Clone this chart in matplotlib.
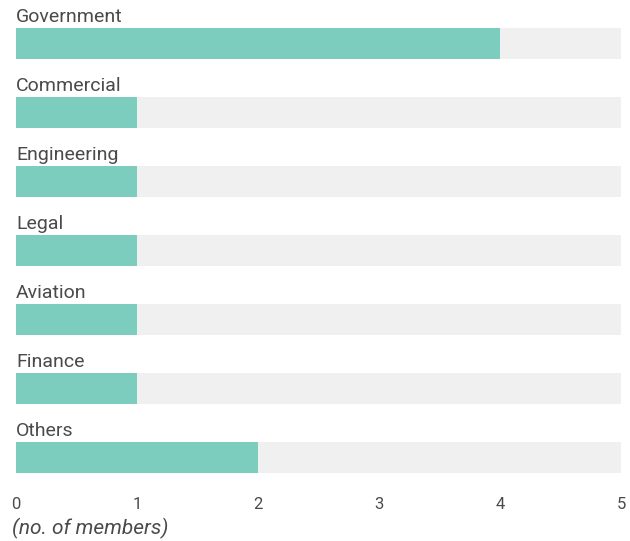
import matplotlib.pyplot as plt

plt.rcParams['font.family'] = ['Roboto', 'DejaVu Sans']

# データ
categories = ['Government', 'Commercial', 'Engineering', 'Legal', 'Aviation', 'Finance', 'Others']
members = [4, 1, 1, 1, 1, 1, 2]
x_max = 5
ticks = [0, 1, 2, 3, 4, 5]

bar_color = '#7dcdbf'
bg_color = '#f0f0f0'
text_color = '#4a4a4a'

fig = plt.figure(figsize=(6.3, 5.41), dpi=100)
ax = fig.add_axes([16 / 630, 1 - 480 / 541, 605 / 630, 480 / 541])

y = list(range(len(categories)))
h = 0.45
ax.barh(y, [x_max] * len(categories), height=h, color=bg_color)
ax.barh(y, members, height=h, color=bar_color)

# カテゴリ名 (バーの上)
for i, name in enumerate(categories):
    ax.text(0, i - h / 2 - 0.085, name, ha='left', va='baseline',
            fontsize=14, color=text_color)

ax.set_xlim(0, x_max)
ax.set_ylim(6.33, -0.63)
ax.set_yticks([])
ax.set_xticks(ticks)
ax.set_xticklabels([str(t) for t in ticks])
ax.tick_params(axis='x', length=0, pad=12, labelsize=12, labelcolor=text_color)
for s in ax.spines.values():
    s.set_visible(False)

fig.text(12 / 630, 1 - 528 / 541, '(no. of members)', ha='left', va='center',
         fontsize=15, style='italic', color=text_color)

plt.savefig('out.png')
